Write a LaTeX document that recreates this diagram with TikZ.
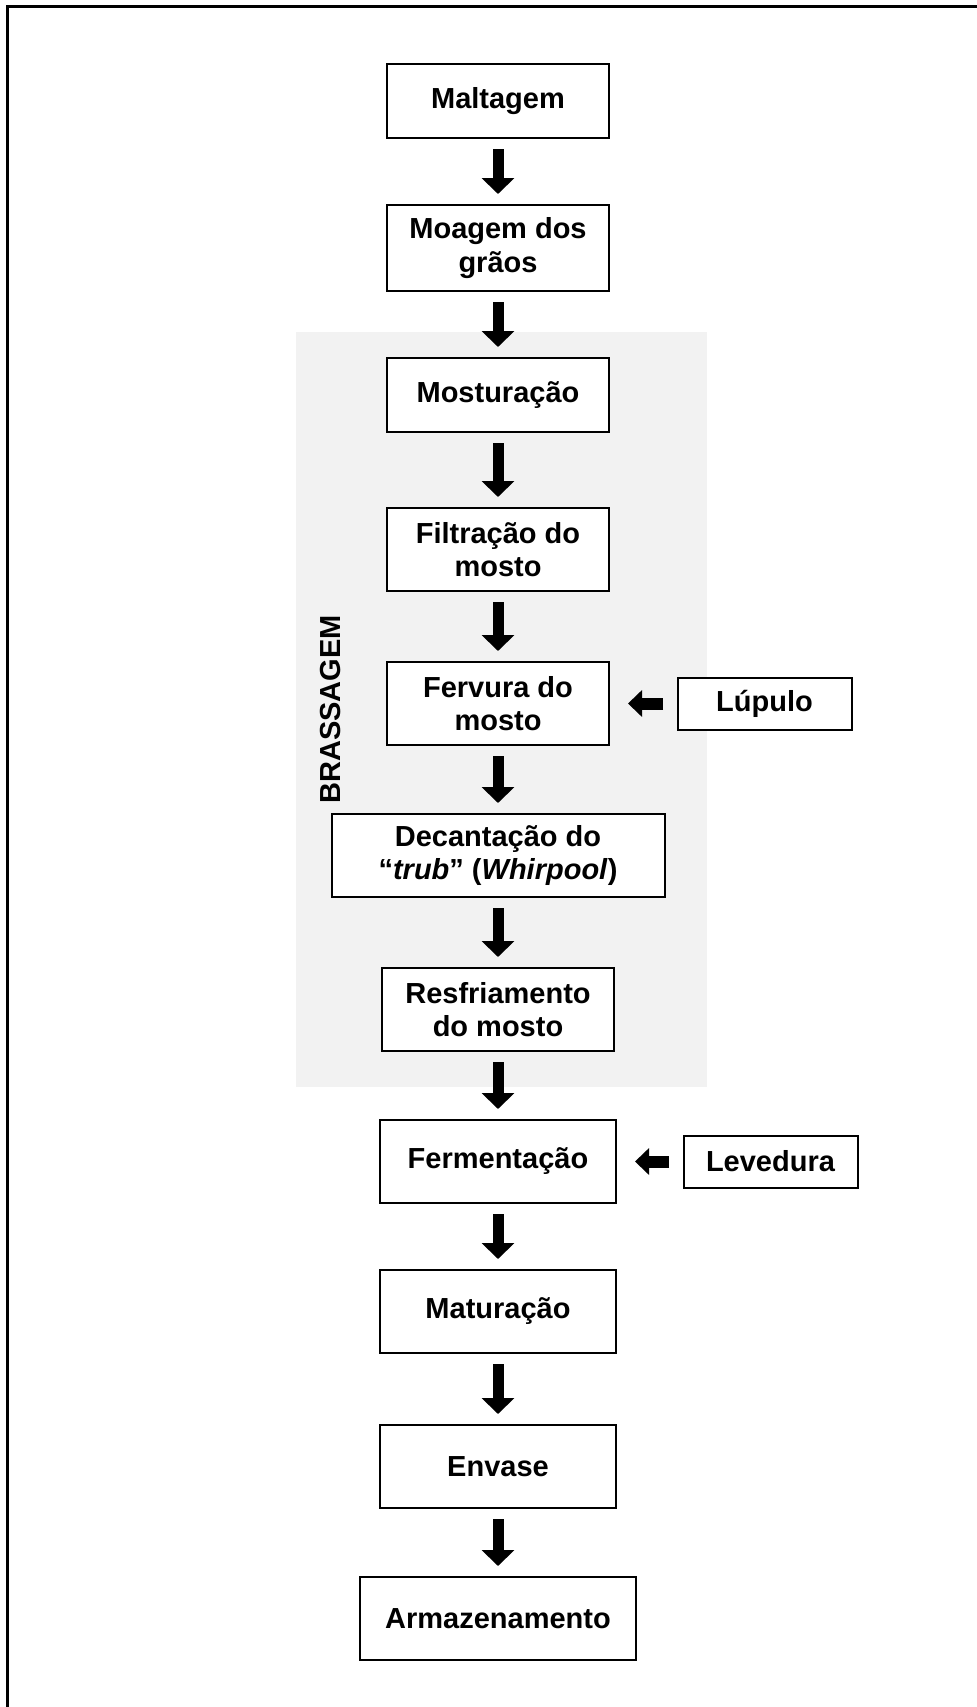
\documentclass[tikz,border=0pt]{standalone}
\usepackage{fontspec}
\setmainfont{Liberation Sans}
\usepackage{tikz}
\usetikzlibrary{matrix, arrows.meta, backgrounds, calc}

\definecolor{cinza}{HTML}{F2F2F2}
\tikzset{
  etapa/.style={draw, fill=white, line width=1.5pt, align=center, inner sep=2pt,
    minimum width=166.5pt, minimum height=62.25pt,
    font=\fontsize{21.75pt}{25.3pt}\selectfont\bfseries},
  insumo/.style={etapa, minimum width=130.5pt, minimum height=39pt},
  seta/.style={line width=8.25pt, -{Triangle[width=24pt, length=12pt]},
    shorten <=7.5pt, shorten >=7.5pt},
  setalado/.style={line width=9pt, -{Triangle[width=19.5pt, length=10.5pt]},
    shorten <=10pt, shorten >=13.5pt}
}

\begin{document}
\begin{tikzpicture}
\useasboundingbox (0,0) rectangle (732.75pt,-1280.25pt);
\draw[line width=2.25pt] (5.25pt,-1280.25pt) |- (732.75pt,-4.5pt);
\matrix (m) [column sep=8.25pt, row sep=50.25pt, matrix anchor=malt.north] at (373.5pt,-47.25pt) {
\node[etapa, minimum height=55.5pt](malt){Maltagem}; & \\[-1.5pt]
\node[etapa, minimum height=64.5pt](moag){Moagem dos\\grãos}; & \\[-1.5pt]
\node[etapa, minimum height=55.5pt](most){Mosturação}; & \\[5.25pt]
\node[etapa](filt){Filtração do\\mosto}; & \\[1.5pt]
\node[etapa](ferv){Fervura do\\mosto}; & \node[insumo](lup){Lúpulo}; \\
\node[etapa, minimum width=249.75pt](dec){Decantação do\\“\textit{trub}” (\textit{Whirpool})}; & \\[1.5pt]
\node[etapa, minimum width=174pt](resf){Resfriamento\\do mosto}; & \\
\node[etapa, minimum width=177pt](ferm){Fermentação}; & \node[insumo, xshift=4.5pt](lev){Levedura}; \\[-1.5pt]
\node[etapa, minimum width=177pt](mat){Maturação}; & \\[2.25pt]
\node[etapa, minimum width=177pt](env){Envase}; & \\
\node[etapa, minimum width=207pt](arm){Armazenamento}; & \\
};
\begin{scope}[on background layer]
\fill[cinza] ($(most.north -| dec.west)+(-26.25pt,18.75pt)$) rectangle ($(resf.south -| dec.east)+(30.75pt,-26.25pt)$);
\end{scope}
\node[font=\fontsize{21.75pt}{25.3pt}\selectfont\bfseries, rotate=90, inner sep=0pt](bras) at ($(dec.west |- ferv)+(0,-4.5pt)$) {BRASSAGEM};
\draw[seta] (malt) -- (moag);
\draw[seta] (moag) -- (most);
\draw[seta] (most) -- (filt);
\draw[seta] (filt) -- (ferv);
\draw[seta] (ferv) -- (dec);
\draw[seta] (dec) -- (resf);
\draw[seta] (resf) -- (ferm);
\draw[seta] (ferm) -- (mat);
\draw[seta] (mat) -- (env);
\draw[seta] (env) -- (arm);
\draw[setalado] (lup) -- (ferv);
\draw[setalado] (lev) -- (ferm);
\end{tikzpicture}
\end{document}
